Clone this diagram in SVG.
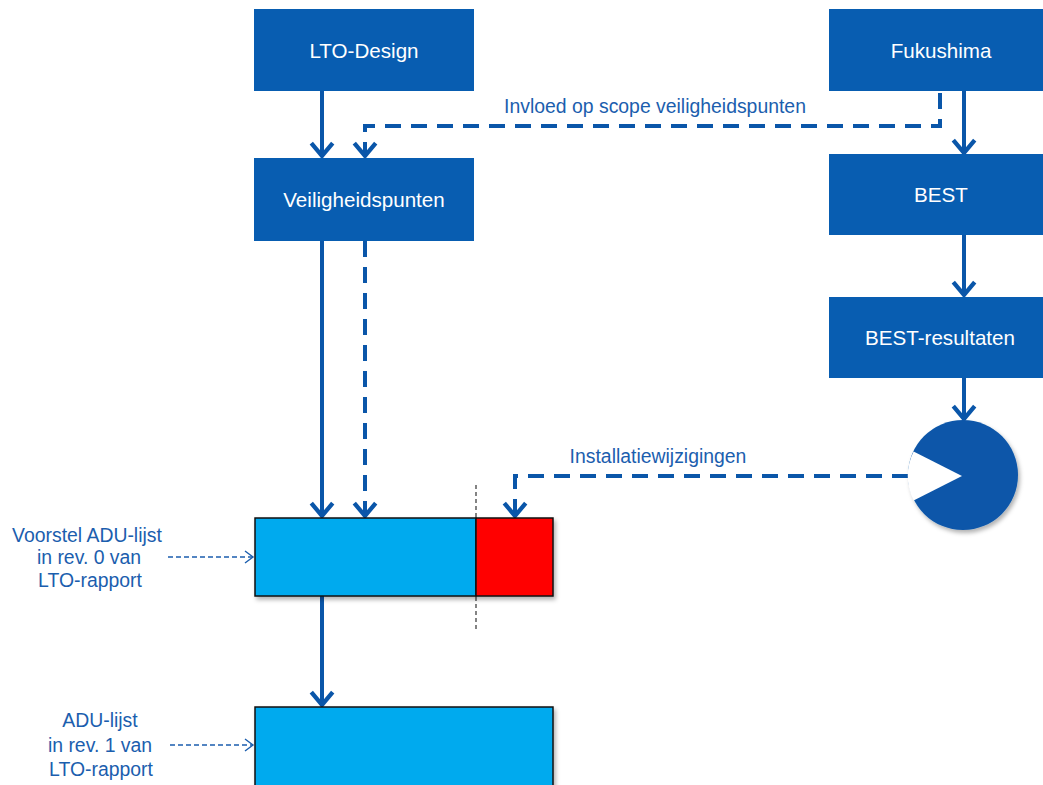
<svg xmlns="http://www.w3.org/2000/svg" width="1043" height="785" viewBox="0 0 1043 785">
<style>
.box{fill:#085DB1;}
.bt{font-family:"Liberation Sans",Arial,sans-serif;font-size:20.6px;fill:#fff;text-anchor:middle;}
.lbl{font-family:"Liberation Sans",Arial,sans-serif;font-size:19.4px;fill:#1B5EAE;text-anchor:middle;}
.sol{fill:none;stroke:#0A56A9;stroke-width:4;marker-end:url(#ah);}
.dsh{fill:none;stroke:#0A56A9;stroke-width:4;stroke-dasharray:16 10;marker-end:url(#ah);}
.thin{fill:none;stroke:#1B5EAE;stroke-width:1.4;stroke-dasharray:5 3;marker-end:url(#sa);}
.adu{stroke:#111;stroke-width:1.5;}
</style>
<defs>
<marker id="ah" markerUnits="userSpaceOnUse" markerWidth="30" markerHeight="30" viewBox="-16 -14 20 28" refX="0" refY="0" orient="auto" overflow="visible">
<path d="M-13,-10 L-1,0 L-13,10" fill="none" stroke="#0A56A9" stroke-width="4" stroke-linejoin="miter"/>
</marker>
<marker id="sa" markerUnits="userSpaceOnUse" markerWidth="14" markerHeight="14" viewBox="-10 -7 12 14" refX="0" refY="0" orient="auto" overflow="visible">
<path d="M-8,-6 L0,0 L-8,6" fill="none" stroke="#1B5EAE" stroke-width="1.4"/>
</marker>
<filter id="sh" x="-10%" y="-10%" width="130%" height="130%">
<feDropShadow dx="2" dy="3" stdDeviation="2" flood-color="#000" flood-opacity="0.3"/>
</filter>
</defs>
<g id="connectors">
<line class="sol" x1="322" y1="91" x2="322" y2="157"/>
<path class="dsh" d="M940,93 V126 H365 V157"/>
<line class="sol" x1="964" y1="91" x2="964" y2="154"/>
<line class="sol" x1="964" y1="235" x2="964" y2="296"/>
<line class="sol" x1="964" y1="378" x2="964" y2="420"/>
<line class="sol" x1="322" y1="241" x2="322" y2="517"/>
<line class="dsh" x1="365" y1="241" x2="365" y2="517"/>
<path class="dsh" d="M908,476 H515 V517"/>
<line class="sol" x1="322" y1="596" x2="322" y2="706"/>
<line class="thin" x1="168" y1="557" x2="253" y2="557"/>
<line class="thin" x1="170" y1="745" x2="253" y2="745"/>
<line x1="476" y1="485" x2="476" y2="630" stroke="#333" stroke-width="1.2" stroke-dasharray="4 3"/>
<text class="lbl" x="655" y="113">Invloed op scope veiligheidspunten</text>
<text class="lbl" x="658" y="463">Installatiewijzigingen</text>
</g>
<g id="lto-design"><rect class="box" x="254" y="9" width="220" height="82"/><text class="bt" x="364" y="58">LTO-Design</text></g>
<g id="veiligheidspunten"><rect class="box" x="254" y="158" width="220" height="83"/><text class="bt" x="364" y="207">Veiligheidspunten</text></g>
<g id="fukushima"><rect class="box" x="829" y="9" width="224" height="82"/><text class="bt" x="941" y="58">Fukushima</text></g>
<g id="best"><rect class="box" x="829" y="154" width="224" height="81"/><text class="bt" x="941" y="202">BEST</text></g>
<g id="best-resultaten"><rect class="box" x="829" y="297" width="224" height="81"/><text class="bt" x="940" y="345">BEST-resultaten</text></g>
<g id="decision">
<circle cx="963" cy="475" r="55" fill="#0A56A9" filter="url(#sh)"/>
<path d="M962,476 L913.6,451.4 A54.5,54.5 0 0 0 913.6,500.6 Z" fill="#fff"/>
</g>
<g id="adu-rev0">
<g filter="url(#sh)">
<rect class="adu" x="255" y="518" width="221" height="78" fill="#00AAEE"/>
<rect class="adu" x="476" y="518" width="77" height="78" fill="#FF0000"/>
</g>
<text class="lbl"><tspan x="87" y="542">Voorstel ADU-lijst</tspan><tspan x="89" y="564">in rev. 0 van</tspan><tspan x="90" y="587">LTO-rapport</tspan></text>
</g>
<g id="adu-rev1">
<rect class="adu" x="255" y="707" width="298" height="82" fill="#00AAEE" filter="url(#sh)"/>
<text class="lbl"><tspan x="100" y="727">ADU-lijst</tspan><tspan x="100" y="752">in rev. 1 van</tspan><tspan x="101" y="776">LTO-rapport</tspan></text>
</g>
</svg>
